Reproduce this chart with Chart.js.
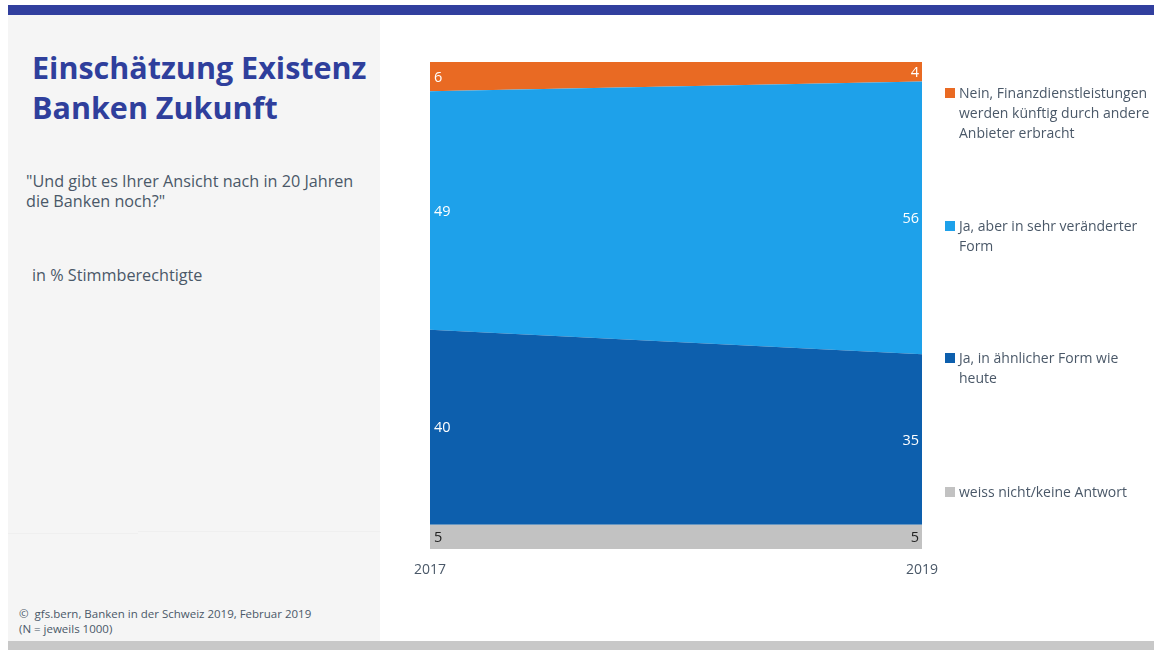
<!DOCTYPE html>
<html lang="de">
<head>
<meta charset="utf-8">
<title>Einschätzung Existenz Banken Zukunft</title>
<script src="https://cdn.jsdelivr.net/npm/chart.js@4/dist/chart.umd.min.js"></script>
<style>
  html, body { margin: 0; padding: 0; }
  body {
    width: 1154px; height: 650px; position: relative; overflow: hidden;
    background: #fff; font-family: "Open Sans", sans-serif; color: #4a5868;
  }
  .topbar { position: absolute; left: 8px; top: 5px; width: 1146px; height: 10px; background: #313f9e; }
  .side { position: absolute; left: 8px; top: 15px; width: 372px; height: 626px; background: #f5f5f5; }
  .side-rule { position: absolute; top: 531px; height: 1px; background: #efefef; }
  .bottombar { position: absolute; left: 8px; top: 641px; width: 1146px; height: 9px; background: #c8c8c8; }
  .title {
    position: absolute; left: 32px; top: 47px; margin: 0;
    font-size: 30.5px; line-height: 40px; font-weight: 700; color: #2f3f9c;
  }
  .question { position: absolute; left: 26px; top: 171px; font-size: 16.2px; line-height: 20px; }
  .unit { position: absolute; left: 32px; top: 264px; font-size: 16.2px; }
  .source { position: absolute; left: 19px; top: 606px; font-size: 11.5px; line-height: 15px; }
  #chartWrap { position: absolute; left: 0; top: 0; width: 1154px; height: 650px; }
  .legend { position: absolute; left: 945px; font-size: 14px; line-height: 20px; }
  .legend span.box { position: absolute; left: 0; top: 5px; width: 10px; height: 10px; }
  .legend div.txt { margin-left: 14px; }
</style>
</head>
<body>
<div class="topbar"></div>
<div class="side"></div>
<div class="side-rule" style="left:8px;width:130px;top:533px"></div>
<div class="side-rule" style="left:138px;width:242px"></div>
<div class="bottombar"></div>

<h1 class="title">Einschätzung Existenz<br>Banken Zukunft</h1>
<div class="question">"Und gibt es Ihrer Ansicht nach in 20 Jahren<br>die Banken noch?"</div>
<div class="unit">in % Stimmberechtigte</div>
<div class="source">©&nbsp; gfs.bern, Banken in der Schweiz 2019, Februar 2019<br>(N = jeweils 1000)</div>

<div id="chartWrap"><canvas id="areaChart"></canvas></div>
<div id="legend"></div>

<script>
// --------------------
// Data
// --------------------
const years = ["2017", "2019"];
const weissNicht = [5, 5];
const jaAehnlich = [40, 35];
const jaVeraendert = [49, 56];
const nein = [6, 4];

const seriesNames = [
  "weiss nicht/keine Antwort",
  "Ja, in ähnlicher Form wie heute",
  "Ja, aber in sehr veränderter Form",
  "Nein, Finanzdienstleistungen werden künftig durch andere Anbieter erbracht"
];
const seriesColors = ["#c2c2c2", "#0d5fad", "#1ea1ea", "#e96a23"];
const labelColors = ["#222222", "#ffffff", "#ffffff", "#ffffff"];

// --------------------
// Value labels at both edges of each band
// --------------------
const bandLabels = {
  id: "bandLabels",
  afterDatasetsDraw(chart) {
    const ctx = chart.ctx;
    const x = chart.scales.x;
    const y = chart.scales.y;
    ctx.save();
    ctx.font = "14.5px 'Open Sans', sans-serif";
    ctx.textBaseline = "middle";
    chart.data.datasets.forEach((ds, di) => {
      ds.data.forEach((v, i) => {
        let base = 0;
        for (let k = 0; k < di; k++) base += chart.data.datasets[k].data[i];
        const yMid = y.getPixelForValue(base + v / 2);
        const px = x.getPixelForValue(i);
        ctx.fillStyle = labelColors[di];
        ctx.textAlign = i === 0 ? "left" : "right";
        ctx.fillText(String(v), i === 0 ? px + 4 : px - 3, yMid + 1);
      });
    });
    ctx.restore();
  }
};

const ctx = document.getElementById("areaChart");
new Chart(ctx, {
  type: "line",
  data: {
    labels: years,
    datasets: [weissNicht, jaAehnlich, jaVeraendert, nein].map((d, i) => ({
      label: seriesNames[i],
      data: d,
      backgroundColor: seriesColors[i],
      borderColor: seriesColors[i],
      borderWidth: 0,
      pointRadius: 0,
      tension: 0,
      fill: i === 0 ? "origin" : "-1"
    }))
  },
  options: {
    responsive: true,
    maintainAspectRatio: false,
    animation: false,
    layout: { padding: { left: 430, right: 232, top: 62, bottom: 0 } },
    plugins: {
      legend: { display: false },
      tooltip: { enabled: false }
    },
    scales: {
      x: {
        offset: false,
        grid: { display: false, drawTicks: false },
        border: { display: false },
        ticks: {
          padding: 13,
          maxRotation: 0,
          color: "#4a5868",
          font: { family: "'Open Sans', sans-serif", size: 14 }
        },
        afterFit(scale) { scale.height = 101; }
      },
      y: {
        display: false,
        stacked: true,
        min: 0,
        max: 100
      }
    }
  },
  plugins: [bandLabels]
});

// --------------------
// Legend (top series first)
// --------------------
const legendTops = [83, 216, 348, 482];
const legendLines = [
  ["Nein, Finanzdienstleistungen", "werden künftig durch andere", "Anbieter erbracht"],
  ["Ja, aber in sehr veränderter", "Form"],
  ["Ja, in ähnlicher Form wie", "heute"],
  ["weiss nicht/keine Antwort"]
];
const legendEl = document.getElementById("legend");
[3, 2, 1, 0].forEach((si, n) => {
  const item = document.createElement("div");
  item.className = "legend";
  item.style.top = legendTops[n] + "px";
  const box = document.createElement("span");
  box.className = "box";
  box.style.background = seriesColors[si];
  const txt = document.createElement("div");
  txt.className = "txt";
  txt.innerHTML = legendLines[n].join("<br>");
  item.appendChild(box);
  item.appendChild(txt);
  legendEl.appendChild(item);
});
</script>
</body>
</html>
